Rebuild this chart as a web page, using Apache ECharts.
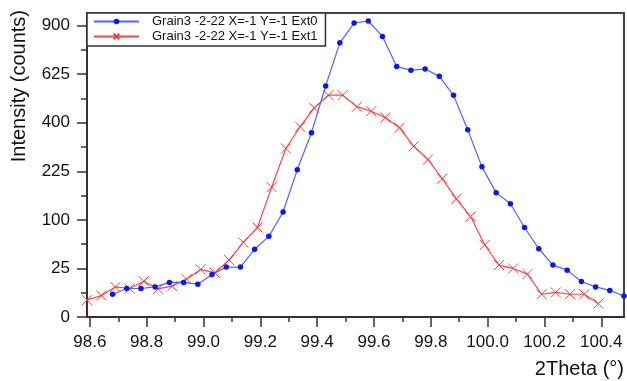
<!DOCTYPE html>
<html>
<head>
<meta charset="utf-8">
<title>Grain3 -2-22 intensity</title>
<script src="https://cdn.jsdelivr.net/npm/echarts@6/dist/echarts.min.js"></script>
<style>
  html, body { margin: 0; padding: 0; background: #fff; }
  #chart { width: 627px; height: 381px; }
</style>
</head>
<body>
<div id="chart"></div>
<script>
// values: 2Theta (deg) and intensity (counts)
const ext0X = [98.68, 98.73, 98.78, 98.83, 98.88, 98.93, 98.98, 99.03, 99.08, 99.13,
  99.18, 99.23, 99.28, 99.33, 99.38, 99.43, 99.48, 99.53, 99.58, 99.63,
  99.68, 99.73, 99.78, 99.83, 99.88, 99.93, 99.98, 100.03, 100.08, 100.13,
  100.18, 100.23, 100.28, 100.33, 100.38, 100.43, 100.48];
const ext0Y = [5.5, 8.6, 8.6, 9.6, 12.7, 12.7, 11.4, 19.2, 26.4, 26.4,
  48.6, 69, 117, 230, 360, 566, 797, 916, 929, 835,
  665, 646, 652, 614, 521, 372, 239, 164, 136, 85,
  49.4, 28.6, 23.3, 13.4, 9.6, 7.5, 4.7];

const ext1X = [98.59, 98.64, 98.69, 98.74, 98.79, 98.84, 98.89, 98.94, 98.99, 99.04,
  99.09, 99.14, 99.19, 99.24, 99.29, 99.34, 99.39, 99.44, 99.49, 99.54,
  99.59, 99.64, 99.69, 99.74, 99.79, 99.84, 99.89, 99.94, 99.99, 100.04,
  100.09, 100.14, 100.19, 100.24, 100.29, 100.34, 100.39];
const ext1Y = [3.0, 4.9, 9.6, 8.6, 13.6, 8.4, 10.1, 15.2, 24, 20.7,
  34.4, 59, 85, 179, 301, 384, 464, 522, 522, 469,
  449, 422, 380, 309, 263, 203, 148, 107, 55, 28.6,
  25, 19.5, 5.5, 6.4, 5.5, 5.5, 1.9];

const xTickLabels = [98.6, 98.8, 99.0, 99.2, 99.4, 99.6, 99.8, 100.0, 100.2, 100.4];
const xMinorTicks = [98.7, 98.9, 99.1, 99.3, 99.5, 99.7, 99.9, 100.1, 100.3];
const yTickLabels = [0, 25, 100, 225, 400, 625, 900];
const yMinorTicks = [6.25, 56.25, 156.25, 306.25, 506.25, 756.25];

const xMin = 98.59, xMax = 100.48, yMax = 980;

// y axis is square-root scaled, so plot sqrt(counts) and label with counts
const sq = Math.sqrt;
const font = 'Liberation Sans, Arial, sans-serif';
const axisColor = '#333';

const chart = echarts.init(document.getElementById('chart'));
const option = {
  animation: false,
  grid: {
    left: 87, right: 1, top: 13, bottom: 64,
    show: true, borderColor: '#444', borderWidth: 2
  },
  legend: {
    orient: 'vertical',
    left: 87, top: 13,
    padding: [2, 8, 3, 6],
    itemGap: 2,
    itemWidth: 45,
    itemHeight: 7,
    backgroundColor: '#fff',
    borderColor: '#333',
    borderWidth: 1.5,
    borderRadius: 0,
    textStyle: { fontFamily: font, fontSize: 13, lineHeight: 13, color: '#111', padding: [0, 0, 0, 8] },
    data: ['Grain3 -2-22 X=-1 Y=-1 Ext0', 'Grain3 -2-22 X=-1 Y=-1 Ext1']
  },
  xAxis: [
    {
      type: 'value', min: xMin, max: xMax,
      name: '2Theta (°)',
      nameLocation: 'end',
      nameGap: 0,
      nameTextStyle: {
        fontFamily: font, fontSize: 20, color: '#111',
        align: 'right', verticalAlign: 'top', padding: [42, 0, 0, 0]
      },
      axisLine: { lineStyle: { color: axisColor, width: 2 } },
      axisTick: { customValues: xTickLabels, length: 10, lineStyle: { color: axisColor, width: 1.5 } },
      axisLabel: {
        customValues: xTickLabels, margin: 17,
        fontFamily: font, fontSize: 17, color: '#111',
        formatter: v => v.toFixed(1)
      },
      splitLine: { show: false }
    },
    {
      type: 'value', min: xMin, max: xMax, position: 'bottom',
      axisLine: { show: false },
      axisTick: { customValues: xMinorTicks, length: 5, lineStyle: { color: axisColor, width: 1.5 } },
      axisLabel: { show: false },
      splitLine: { show: false }
    }
  ],
  yAxis: [
    {
      type: 'value', min: 0, max: sq(yMax),
      name: 'Intensity (counts)',
      nameLocation: 'end',
      nameRotate: 90,
      nameGap: 3,
      nameTextStyle: {
        fontFamily: font, fontSize: 20, color: '#111',
        align: 'right', verticalAlign: 'bottom', padding: [0, 0, 58, 0]
      },
      axisLine: { show: true, lineStyle: { color: axisColor, width: 2 } },
      axisTick: { show: true, customValues: yTickLabels.map(sq), length: 10, lineStyle: { color: axisColor, width: 1.5 } },
      axisLabel: {
        customValues: yTickLabels.map(sq), margin: 17,
        fontFamily: font, fontSize: 17, color: '#111',
        formatter: v => Math.round(v * v)
      },
      splitLine: { show: false }
    },
    {
      type: 'value', min: 0, max: sq(yMax), position: 'left',
      axisLine: { show: false },
      axisTick: { show: true, customValues: yMinorTicks.map(sq), length: 6, lineStyle: { color: axisColor, width: 1.5 } },
      axisLabel: { show: false },
      splitLine: { show: false }
    }
  ],
  series: [
    {
      name: 'Grain3 -2-22 X=-1 Y=-1 Ext0',
      type: 'line',
      data: ext0X.map((x, i) => [x, sq(ext0Y[i])]),
      symbol: 'circle',
      symbolSize: 5.5,
      showAllSymbol: true,
      itemStyle: { color: '#0a14ff' },
      lineStyle: { color: '#5562ff', width: 1.2 },
      emphasis: { disabled: true },
      z: 3
    },
    {
      name: 'Grain3 -2-22 X=-1 Y=-1 Ext1',
      type: 'line',
      data: ext1X.map((x, i) => [x, sq(ext1Y[i])]),
      symbol: 'path://M0,0L10,10M10,0L0,10',
      symbolSize: 10,
      showAllSymbol: true,
      itemStyle: { color: '#ff3535', borderColor: '#ff3535', borderWidth: 1 },
      lineStyle: { color: '#ff4545', width: 1.2 },
      emphasis: { disabled: true },
      z: 2
    }
  ]
};
chart.setOption(option);
window.addEventListener('resize', function () {
  chart.resize();
});
</script>
</body>
</html>
